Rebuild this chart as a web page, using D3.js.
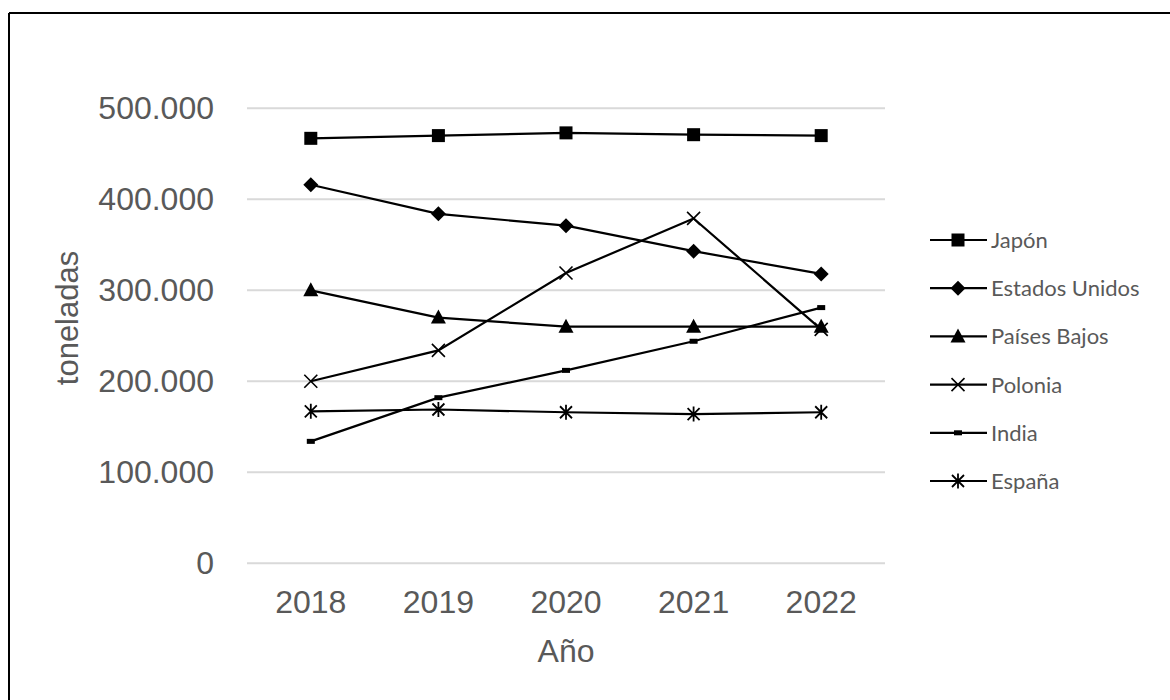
<!DOCTYPE html>
<html><head><meta charset="utf-8">
<script src="https://cdn.jsdelivr.net/npm/d3@7"></script>
<style>body{margin:0;background:#fff}svg{display:block}</style>
</head><body><svg id="c" width="1170" height="700"></svg>
<script>
const years = ["2018","2019","2020","2021","2022"];
const seriesNames = ["Japón","Estados Unidos","Países Bajos","Polonia","India","España"];
const japon = [467000,470000,473000,471000,470000];
const estadosUnidos = [416000,384000,371000,343000,318000];
const paisesBajos = [300000,270000,260000,260000,260000];
const polonia = [200000,234000,319000,379000,257000];
const india = [134000,182000,212000,244000,281000];
const espana = [167000,169000,166000,164000,166000];
const yTicks = [0,100000,200000,300000,400000,500000];
const markers = ["square","diamond","triangle","x","dash","star"];
const values = [japon,estadosUnidos,paisesBajos,polonia,india,espana];

const svg = d3.select("#c");
const W=1170,H=700;
svg.append("line").attr("x1",9).attr("y1",13).attr("x2",W).attr("y2",13).attr("stroke","#000").attr("stroke-width",2);
svg.append("line").attr("x1",9).attr("y1",13).attr("x2",9).attr("y2",H).attr("stroke","#000").attr("stroke-width",2);

const x = d3.scaleBand().domain(years).range([247,885]);
const y = d3.scaleLinear().domain([0,500000]).range([563.3,108.3]);
const fmt = d => d3.format(",")(d).replace(/,/g,".");

svg.append("g").selectAll("line").data(yTicks).join("line")
  .attr("x1",247).attr("x2",885).attr("y1",d=>y(d)).attr("y2",d=>y(d))
  .attr("stroke","#d9d9d9").attr("stroke-width",2);

const yAxis = d3.axisLeft(y).tickValues(yTicks).tickFormat(fmt).tickSize(0).tickPadding(0);
const gy = svg.append("g").attr("transform","translate(214,0)").call(yAxis);
gy.select(".domain").remove();
gy.selectAll("text").attr("font-family","Liberation Sans, Arial, sans-serif").attr("font-size",32).attr("fill","#595959");

const xAxis = d3.axisBottom(x).tickSize(0).tickPadding(0);
const gx = svg.append("g").attr("transform","translate(0,590)").call(xAxis);
gx.select(".domain").remove();
gx.selectAll("text").attr("font-family","Liberation Sans, Arial, sans-serif").attr("font-size",32).attr("fill","#595959").attr("dy","0.71em");

svg.append("text").attr("x",x("2020")+x.bandwidth()/2).attr("y",662).attr("text-anchor","middle")
  .attr("font-family","Liberation Sans, Arial, sans-serif").attr("font-size",32).attr("fill","#595959").text("Año");
svg.append("text").attr("transform","translate(78,318) rotate(-90)").attr("text-anchor","middle")
  .attr("font-family","Liberation Sans, Arial, sans-serif").attr("font-size",31).attr("fill","#595959").text("toneladas");

function drawMarker(g, type){
  if(type==="square") g.append("rect").attr("x",-6.5).attr("y",-6.5).attr("width",13).attr("height",13).attr("fill","#000");
  else if(type==="diamond") g.append("path").attr("d","M0,-7.5L7.5,0L0,7.5L-7.5,0Z").attr("fill","#000");
  else if(type==="triangle") g.append("path").attr("d","M0,-8L7.5,6L-7.5,6Z").attr("fill","#000");
  else if(type==="x") g.append("path").attr("d","M-6.5,-6.5L6.5,6.5M-6.5,6.5L6.5,-6.5").attr("stroke","#000").attr("stroke-width",1.6);
  else if(type==="dash") g.append("rect").attr("x",-4).attr("y",-2.5).attr("width",8).attr("height",5).attr("fill","#000");
  else if(type==="star") g.append("path").attr("d","M-6,-6L6,6M-6,6L6,-6M0,-7.5L0,7.5").attr("stroke","#000").attr("stroke-width",1.8);
}

const line = d3.line().x((d,i)=>x(years[i])+x.bandwidth()/2).y(d=>y(d));
values.forEach((vals,si)=>{
  svg.append("path").attr("d",line(vals)).attr("fill","none").attr("stroke","#000").attr("stroke-width",2.2);
});
values.forEach((vals,si)=>{
  vals.forEach((v,i)=>{
    const g = svg.append("g").attr("transform",`translate(${x(years[i])+x.bandwidth()/2},${y(v)})`);
    drawMarker(g, markers[si]);
  });
});

const leg = svg.append("g");
seriesNames.forEach((name,i)=>{
  const yy = 240 + i*48.2;
  const g = leg.append("g").attr("transform",`translate(0,${yy})`);
  g.append("line").attr("x1",930).attr("x2",987).attr("y1",0).attr("y2",0).attr("stroke","#000").attr("stroke-width",2.2);
  const m = g.append("g").attr("transform","translate(958,0)");
  drawMarker(m, markers[i]);
  g.append("text").attr("x",991).attr("y",0).attr("dy","0.36em").attr("font-family","Lato, Carlito, sans-serif")
    .attr("font-size",22).attr("fill","#595959").text(name);
});
</script></body></html>
